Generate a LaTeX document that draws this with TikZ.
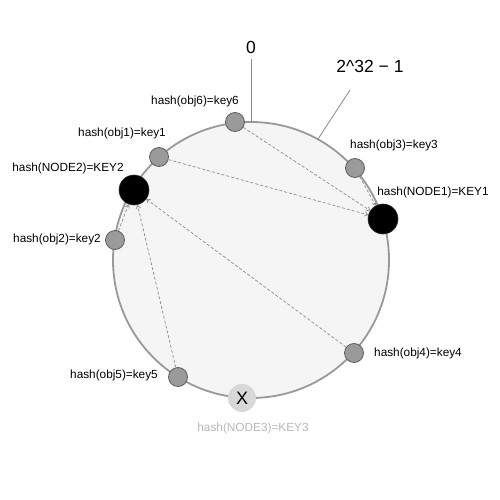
\documentclass[tikz,border=0pt]{standalone}
\usepackage{fontspec}
\setmainfont{Liberation Sans}
\usetikzlibrary{arrows.meta}
\definecolor{ringfill}{HTML}{F5F5F5}
\definecolor{ringdraw}{HTML}{999999}
\definecolor{objfill}{HTML}{9A9A9A}
\definecolor{objdraw}{HTML}{5E5E5E}
\definecolor{deadfill}{HTML}{D8D8D8}
\definecolor{deadtext}{HTML}{B8B8B8}
\definecolor{dashcol}{HTML}{8C8C8C}
\begin{document}
\begin{tikzpicture}[x=1pt,y=-1pt,
  ring/.style={circle,draw=ringdraw,fill=ringfill,line width=1.8pt,minimum size=276pt,inner sep=0pt},
  obj/.style={circle,draw=objdraw,fill=objfill,line width=0.8pt,minimum size=19pt,inner sep=0pt},
  srv/.style={circle,fill=black,draw=black!80,line width=0.6pt,minimum size=30pt,inner sep=0pt},
  dead/.style={circle,fill=deadfill,minimum size=28pt,inner sep=0pt,font=\fontsize{18}{18}\selectfont},
  lbl/.style={font=\fontsize{11.8}{13}\selectfont,inner sep=0pt},
  big/.style={font=\fontsize{17.5}{20}\selectfont,inner sep=0pt},
  map/.style={draw=dashcol,dashed,dash pattern=on 3pt off 2pt,line width=0.7pt,-{Straight Barb[length=3pt,width=4.5pt]}},
  tick/.style={draw=ringdraw!90!black,line width=0.8pt}]
\useasboundingbox (0,0) rectangle (500,500);
\node[ring] (ring) at (251,260) {};
% ticks
\node[big] (zero) at (251,47) {0};
\node[big] (max) at (370,66) {2\textasciicircum 32 − 1};
\coordinate (maxend) at (350,90);
\draw[tick] (zero.south) ++(0,6) -- (ring.north);
\draw[tick] (maxend) -- (ring.61.4);
% nodes
\node[obj] (o6) at (235,122) {};
\node[obj] (o1) at (159,157) {};
\node[srv] (n2) at (134,190) {};
\node[obj] (o2) at (115,240) {};
\node[obj] (o3) at (355,168) {};
\node[srv] (n1) at (383,219) {};
\node[obj] (o4) at (354,353) {};
\node[obj] (o5) at (178,377) {};
\node[dead] (n3) at (242,398) {X};
% labels
\node[lbl] (l6) at (195,101) {hash(obj6)=key6};
\node[lbl] (l1) at (122,133) {hash(obj1)=key1};
\node[lbl] (ln2) at (68,168) {hash(NODE2)=KEY2};
\node[lbl] (l2) at (57,239) {hash(obj2)=key2};
\node[lbl] (l3) at (394,145) {hash(obj3)=key3};
\node[lbl] (ln1) at (433,192) {hash(NODE1)=KEY1};
\node[lbl] (l4) at (418,353) {hash(obj4)=key4};
\node[lbl] (l5) at (114,375) {hash(obj5)=key5};
\node[lbl,text=deadtext] (ln3) at (253,428) {hash(NODE3)=KEY3};
% mappings
\draw[map] (o6) -- (n1);
\draw[map] (o1) -- (n1);
\draw[map] (o3) -- (n1);
\draw[map] (o2) -- (n2);
\draw[map] (o5) -- (n2);
\draw[map] (o4) -- (n2);
\end{tikzpicture}
\end{document}
